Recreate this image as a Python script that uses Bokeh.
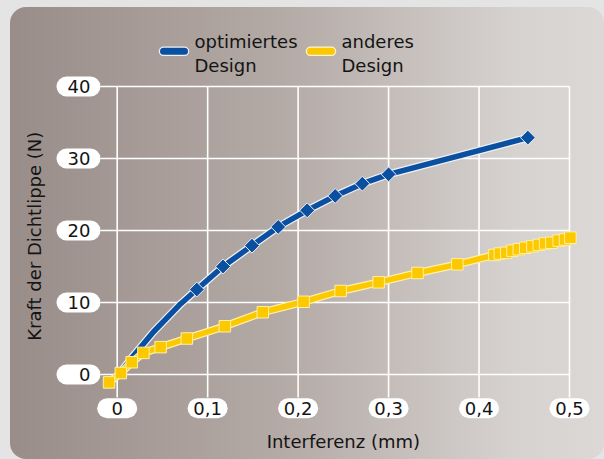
import numpy as np
from bokeh.plotting import figure
from bokeh.models import Range1d, GlobalInlineStyleSheet
from bokeh.core.properties import value
from bokeh.embed import file_html
from bokeh.resources import INLINE

# ---------------- data ----------------
x_ticks = [0, 0.1, 0.2, 0.3, 0.4, 0.5]
x_tick_labels = ["0", "0,1", "0,2", "0,3", "0,4", "0,5"]
y_ticks = [0, 10, 20, 30, 40]
y_tick_labels = ["0", "10", "20", "30", "40"]

x_title = "Interferenz (mm)"
y_title = "Kraft der Dichtlippe (N)"

series_names = ["optimiertes\nDesign", "anderes\nDesign"]

# optimiertes Design: start of curve (no markers) and measured points (diamonds)
blue_curve_x = [0.002, 0.018, 0.040, 0.070]
blue_curve_y = [0.0, 2.6, 5.9, 9.8]
blue_x = [0.088, 0.117, 0.149, 0.178, 0.210, 0.241, 0.271, 0.300, 0.454]
blue_y = [11.8, 15.0, 17.9, 20.5, 22.8, 24.8, 26.5, 27.8, 32.9]

# anderes Design (squares)
yellow_x = [-0.009, 0.004, 0.016, 0.029, 0.048, 0.077, 0.119, 0.161, 0.206, 0.247,
            0.289, 0.332, 0.376, 0.417, 0.423, 0.430, 0.437, 0.444, 0.451, 0.459,
            0.466, 0.473, 0.480, 0.488, 0.495, 0.501]
yellow_y = [-1.1, 0.2, 1.7, 3.0, 3.8, 5.0, 6.7, 8.65, 10.1, 11.6,
            12.8, 14.1, 15.3, 16.6, 16.8, 16.9, 17.2, 17.4, 17.6, 17.8,
            18.0, 18.2, 18.3, 18.6, 18.75, 19.0]

# ---------------- layout ----------------
OFF_X, OFF_Y = 10, 7             # page position of the panel
W, H = 594, 452
PX_X0, PX_X1 = 116.7, 569.0      # page x of x=0 and x=0.5
PX_Y0, PX_Y40 = 374.0, 86.0      # page y of y=0 and y=40
sx = (PX_X1 - PX_X0) / 0.5
sy = (PX_Y0 - PX_Y40) / 40.0
x_start = -(PX_X0 - OFF_X) / sx
x_end = 0.5 + (OFF_X + W - PX_X1) / sx
y_end = 40 + (PX_Y40 - OFF_Y) / sy
y_start = -(OFF_Y + H - PX_Y0) / sy


def dx(px):
    return px / sx


def dy(px):
    return px / sy


def gx(page_x):
    return x_start + (page_x - OFF_X) / sx


def gy(page_y):
    return y_end - (page_y - OFF_Y) / sy


BLUE = "#0a4fa0"
YELLOW = "#fcc800"
FONT = "DejaVu Sans"
TXT = "#141414"
FS = "18px"

p = figure(width=W, height=H, output_backend="svg", toolbar_location=None,
           x_range=Range1d(x_start, x_end), y_range=Range1d(y_start, y_end),
           x_axis_type=None, y_axis_type=None, min_border=0)
p.background_fill_color = None
p.border_fill_color = None
p.outline_line_color = None
p.styles = {"background": "linear-gradient(90deg, #998d89 0%, #b3a9a5 45%, #d6d2d0 85%, #dbd8d6 100%)",
            "border-radius": "16px"}
p.stylesheets = [GlobalInlineStyleSheet(
    css="html, body { background: #e4e4e4 !important; } "
        "body { padding: 7px 0 0 10px !important; margin: 0 !important; }")]

x_min, x_max = min(x_ticks), max(x_ticks)
y_min, y_max = min(y_ticks), max(y_ticks)

# grid lines
p.segment(x0=x_ticks, y0=[y_min - dy(23)] * len(x_ticks), x1=x_ticks, y1=[y_max] * len(x_ticks),
          line_color="white", line_width=1.6)
p.segment(x0=[x_min - dx(16.7)] * len(y_ticks), y0=y_ticks, x1=[x_max] * len(y_ticks), y1=y_ticks,
          line_color="white", line_width=1.6)

# tick label pills
p.segment(x0=[x_min - dx(50.7)] * len(y_ticks), y0=y_ticks, x1=[x_min - dx(26.7)] * len(y_ticks), y1=y_ticks,
          line_color="white", line_width=20, line_cap="round")
xl_y = y_min - dy(33.7)
p.segment(x0=[t - dx(10) for t in x_ticks], y0=[xl_y] * len(x_ticks),
          x1=[t + dx(10) for t in x_ticks], y1=[xl_y] * len(x_ticks),
          line_color="white", line_width=20, line_cap="round")

# tick labels
p.text(x=[x_min - dx(26.7)] * len(y_ticks), y=y_ticks, text=y_tick_labels,
       text_align="right", text_baseline="middle", text_font=value(FONT),
       text_font_size=FS, text_color=TXT)
p.text(x=x_ticks, y=[xl_y] * len(x_ticks), text=x_tick_labels,
       text_align="center", text_baseline="middle", text_font=value(FONT),
       text_font_size=FS, text_color=TXT)

# axis titles
p.text(x=[(x_min + x_max) / 2], y=[gy(441)], text=[x_title],
       text_align="center", text_baseline="middle", text_font=value(FONT),
       text_font_size=FS, text_color=TXT)
p.text(x=[gx(34)], y=[gy(235.7)], text=[y_title], angle=np.pi / 2,
       text_align="center", text_baseline="middle", text_font=value(FONT),
       text_font_size=FS, text_color=TXT)

# series: optimiertes Design
bx = blue_curve_x + blue_x
by = blue_curve_y + blue_y
p.line(bx, by, line_color="#eef2f8", line_width=8, line_cap="round", line_join="round")
p.line(bx, by, line_color=BLUE, line_width=5.5, line_cap="round", line_join="round")
p.scatter(blue_x, blue_y, marker="square", angle=np.pi / 4, size=10.5,
          fill_color=BLUE, line_color="#e8eef8", line_width=1)

# series: anderes Design
p.line(yellow_x, yellow_y, line_color="#fff1a8", line_width=8, line_cap="round", line_join="round")
p.line(yellow_x, yellow_y, line_color=YELLOW, line_width=5.5, line_cap="round", line_join="round")
p.scatter(yellow_x, yellow_y, marker="square", size=11.5,
          fill_color=YELLOW, line_color="#fff0a0", line_width=1)

# legend (swatch + two-line label per series)
leg_colors = [BLUE, YELLOW]
leg_halo = ["#eef2f8", "#fff6d0"]
leg_left = [163, 310]          # page x where each swatch starts
SW_LEN, STANDOFF = 21, 10
LEG_Y, LINE1_Y, LINE2_Y = 50.8, 40.6, 64.6
for name, col, halo, lx in zip(series_names, leg_colors, leg_halo, leg_left):
    p.segment(x0=[gx(lx)], y0=[gy(LEG_Y)], x1=[gx(lx + SW_LEN)], y1=[gy(LEG_Y)],
              line_color=halo, line_width=9.5, line_cap="round")
    p.segment(x0=[gx(lx)], y0=[gy(LEG_Y)], x1=[gx(lx + SW_LEN)], y1=[gy(LEG_Y)],
              line_color=col, line_width=7, line_cap="round")
    lines = name.split("\n")
    p.text(x=[gx(lx + SW_LEN + STANDOFF)] * len(lines), y=[gy(LINE1_Y), gy(LINE2_Y)], text=lines,
           text_align="left", text_baseline="middle", text_font=value(FONT),
           text_font_size=FS, text_color=TXT)

open("out.html", "w").write(file_html(p, INLINE))
